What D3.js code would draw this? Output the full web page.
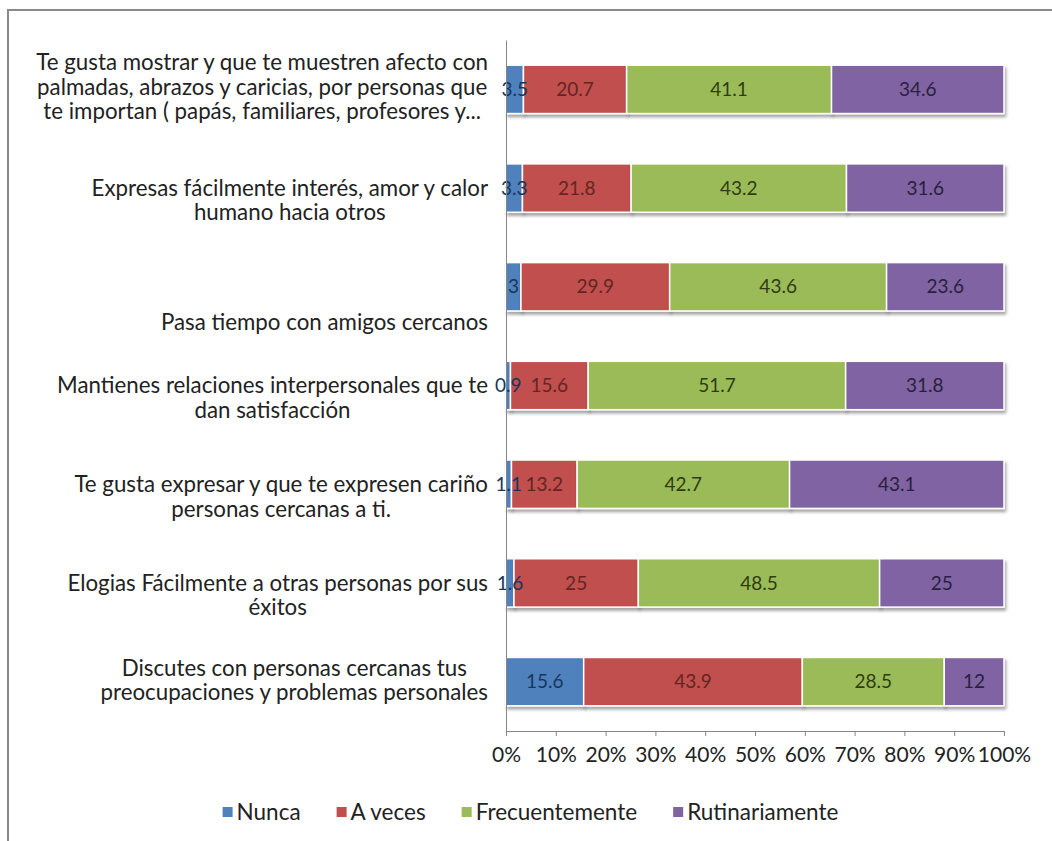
<!DOCTYPE html>
<html>
<head>
<meta charset="utf-8">
<script src="https://cdn.jsdelivr.net/npm/d3@7"></script>
<style>
  html, body { margin: 0; padding: 0; background: #fff; }
  svg { display: block; }
  text { font-family: Lato, "Open Sans", sans-serif; }
</style>
</head>
<body>
<svg id="chart" width="1052" height="841"></svg>
<script>
// Survey items, top to bottom, each split into its wrapped lines
const categories = [
  ["Te gusta mostrar y que te muestren afecto con", "palmadas, abrazos y caricias, por personas que", "te importan ( papás, familiares, profesores y..."],
  ["Expresas fácilmente interés, amor y calor", "humano hacia otros"],
  ["Pasa tiempo con amigos cercanos"],
  ["Mantienes relaciones interpersonales que te", "dan satisfacción"],
  ["Te gusta expresar y que te expresen cariño", "personas cercanas  a ti."],
  ["Elogias Fácilmente a otras personas por sus", "éxitos"],
  ["Discutes con personas cercanas tus", "preocupaciones y problemas personales"]
];

const seriesNames = ["Nunca", "A veces", "Frecuentemente", "Rutinariamente"];

// Percentages per answer, in the same order as the categories
const nunca          = [3.5, 3.3, 3,    0.9,  1.1,  1.6,  15.6];
const aVeces         = [20.7, 21.8, 29.9, 15.6, 13.2, 25,   43.9];
const frecuentemente = [41.1, 43.2, 43.6, 51.7, 42.7, 48.5, 28.5];
const rutinariamente = [34.6, 31.6, 23.6, 31.8, 43.1, 25,   12];

const tickValues = [0, 0.1, 0.2, 0.3, 0.4, 0.5, 0.6, 0.7, 0.8, 0.9, 1];

const fillColors  = ["#4f81bd", "#c0504d", "#9bbb59", "#8064a2"];
const labelColors = ["#17365d", "#632523", "#2f3c13", "#2a1f3d"];

// Vertical placement of each wrapped label, in line heights from the bar centre
const labelLineShift = [-1.1, 0, 1.45, 0, 0, 0, -0.55];

const svg = d3.select("#chart");

// chart frame
svg.append("rect")
  .attr("x", 8).attr("y", 10)
  .attr("width", 1200).attr("height", 1000)
  .attr("fill", "#fff")
  .attr("stroke", "#8a8a8a").attr("stroke-width", 2);

const defs = svg.append("defs");
const shadow = defs.append("filter").attr("id", "barShadow")
  .attr("x", "-5%").attr("y", "-20%").attr("width", "110%").attr("height", "150%");
shadow.append("feDropShadow")
  .attr("dx", 1.5).attr("dy", 3).attr("stdDeviation", 1.4)
  .attr("flood-color", "#000").attr("flood-opacity", 0.35);

const plot = { left: 506, right: 1004, top: 40, bottom: 731 };

const x = d3.scaleLinear().domain([0, 1]).range([plot.left, plot.right]);
const y = d3.scaleBand()
  .domain(d3.range(categories.length))
  .range([plot.top, plot.bottom])
  .paddingInner(0.51).paddingOuter(0.255);

const seriesValues = [nunca, aVeces, frecuentemente, rutinariamente];
const rows = categories.map((c, i) => {
  const row = { index: i };
  seriesNames.forEach((s, k) => row[s] = seriesValues[k][i]);
  return row;
});

const stacked = d3.stack().keys(seriesNames).offset(d3.stackOffsetExpand)(rows);

// bars
const barLayer = svg.append("g");
stacked.forEach((layer, k) => {
  barLayer.append("g")
    .attr("filter", "url(#barShadow)")
    .selectAll("rect")
    .data(layer)
    .join("rect")
    .attr("x", d => x(d[0]))
    .attr("y", d => y(d.data.index))
    .attr("width", d => Math.max(0, x(d[1]) - x(d[0])))
    .attr("height", y.bandwidth())
    .attr("fill", fillColors[k])
    .attr("stroke", "#fff")
    .attr("stroke-width", 1.5);
});

// value labels
stacked.forEach((layer, k) => {
  svg.append("g")
    .selectAll("text")
    .data(layer)
    .join("text")
    .attr("x", d => (x(d[0]) + x(d[1])) / 2)
    .attr("y", d => y(d.data.index) + y.bandwidth() / 2)
    .attr("dy", "0.35em")
    .attr("text-anchor", "middle")
    .attr("font-size", 19)
    .attr("fill", labelColors[k])
    .text(d => d.data[seriesNames[k]]);
});

// x axis
const xAxis = d3.axisBottom(x)
  .tickValues(tickValues)
  .tickFormat(d3.format(".0%"))
  .tickSize(5)
  .tickPadding(11);

const gx = svg.append("g")
  .attr("transform", `translate(0,${plot.bottom})`)
  .call(xAxis);
gx.select(".domain").attr("stroke", "#868686");
gx.selectAll(".tick line").attr("stroke", "#868686");
gx.selectAll(".tick text")
  .attr("font-size", 21)
  .attr("font-family", "Lato, sans-serif")
  .attr("fill", "#222");

// y axis line
const yAxis = d3.axisLeft(y).tickSize(0).tickFormat("");
const gy = svg.append("g")
  .attr("transform", `translate(${plot.left},0)`)
  .call(yAxis);
gy.select(".domain").attr("stroke", "#868686");

// category labels: lines centred within each block, block right-aligned
const lineHeight = 24.5;
const labelRight = 488;
categories.forEach((lines, i) => {
  const g = svg.append("g");
  const cy = y(i) + y.bandwidth() / 2;
  const texts = lines.map((line, j) => g.append("text")
    .attr("y", cy + (labelLineShift[i] + j) * lineHeight)
    .attr("dy", "0.35em")
    .attr("font-size", 22.3)
    .attr("fill", "#222")
    .attr("text-anchor", "middle")
    .text(line));
  const widths = texts.map(t => t.node().getComputedTextLength());
  const blockW = d3.max(widths);
  texts.forEach(t => t.attr("x", labelRight - blockW / 2));
});

// legend
const legend = svg.append("g");
const items = seriesNames.map((name, k) => {
  const g = legend.append("g");
  g.append("rect")
    .attr("y", -5).attr("width", 10).attr("height", 10)
    .attr("fill", fillColors[k]);
  const t = g.append("text")
    .attr("x", 14).attr("dy", "0.35em")
    .attr("font-size", 22.5).attr("fill", "#222")
    .text(name);
  return { g, w: 14 + t.node().getComputedTextLength() };
});
const gap = 36;
const total = d3.sum(items, d => d.w) + gap * (items.length - 1);
let lx = 530.5 - total / 2;
items.forEach(it => {
  it.g.attr("transform", `translate(${lx},812)`);
  lx += it.w + gap;
});
</script>
</body>
</html>
